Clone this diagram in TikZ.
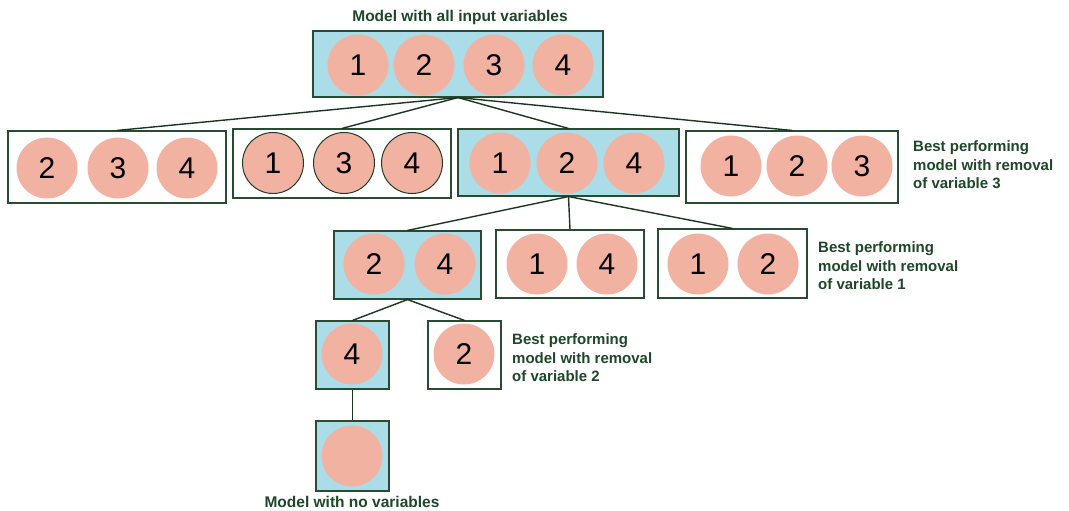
\documentclass[tikz,border=0pt]{standalone}
\usepackage{fontspec}
\setmainfont{Liberation Sans}
\definecolor{boxblue}{RGB}{170,221,232}
\definecolor{salmon}{RGB}{242,178,162}
\definecolor{edge}{RGB}{40,75,50}
\definecolor{lbl}{RGB}{30,70,40}
\begin{document}
\begin{tikzpicture}[x=1pt,y=-1pt,
  wbox/.style={draw=edge,line width=1.1pt,fill=white,rectangle,inner sep=0pt},
  bbox/.style={wbox,fill=boxblue},
  circ/.style={circle,fill=salmon,minimum size=61pt,inner sep=0pt,font=\fontsize{30}{30}\selectfont},
  ocirc/.style={circ,draw=edge!80!black,line width=1pt},
  conn/.style={draw=edge!70!black,line width=1.4pt},
  note/.style={align=left,anchor=west,text=lbl,font=\bfseries\fontsize{15}{18.5}\selectfont,inner sep=0pt},
  title/.style={text=lbl,font=\bfseries\fontsize{15.5}{17}\selectfont}]
\useasboundingbox (0,0) rectangle (1069,511);
% boxes
\node[bbox,minimum width=290pt,minimum height=66pt] (t) at (458,64) {};
\node[wbox,minimum width=218pt,minimum height=72pt] (r1) at (117,167) {};
\node[wbox,minimum width=218pt,minimum height=69pt] (r2) at (342,163.5) {};
\node[bbox,minimum width=221pt,minimum height=67pt] (r3) at (568.5,162.5) {};
\node[wbox,minimum width=212pt,minimum height=72pt] (r4) at (792,167) {};
\node[bbox,minimum width=147pt,minimum height=68pt] (a) at (407.5,265) {};
\node[wbox,minimum width=148pt,minimum height=68pt] (b) at (570,264) {};
\node[wbox,minimum width=149pt,minimum height=69pt] (c) at (732.5,263.5) {};
\node[bbox,minimum width=73pt,minimum height=68pt] (d) at (352.5,355) {};
\node[wbox,minimum width=73pt,minimum height=68pt] (e) at (464.5,355) {};
\node[bbox,minimum width=73pt,minimum height=70pt] (f) at (352.5,456) {};
% circles
\node[circ] (t1) at (358,65) {1};
\node[circ] (t2) at (424,65) {2};
\node[circ] (t3) at (494,65) {3};
\node[circ] (t4) at (563,65) {4};
\node[circ] (r1a) at (47,168) {2};
\node[circ] (r1b) at (118,168) {3};
\node[circ] (r1c) at (187,168) {4};
\node[ocirc] (r2a) at (273,163) {1};
\node[ocirc] (r2b) at (344,163) {3};
\node[ocirc] (r2c) at (412,163) {4};
\node[circ] (r3a) at (500,163) {1};
\node[circ] (r3b) at (567,163) {2};
\node[circ] (r3c) at (634,163) {4};
\node[circ] (r4a) at (731,166) {1};
\node[circ] (r4b) at (797,166) {2};
\node[circ] (r4c) at (862,166) {3};
\node[circ] (aa) at (374,264) {2};
\node[circ] (ab) at (445,264) {4};
\node[circ] (ba) at (537,264) {1};
\node[circ] (bb) at (607,264) {4};
\node[circ] (ca) at (698,264) {1};
\node[circ] (cb) at (768,264) {2};
\node[circ] (da) at (352,354) {4};
\node[circ] (ea) at (464,354) {2};
\node[circ] (fa) at (352,456) {};
% connectors
\foreach \n in {r1,r2,r3,r4} \draw[conn] (t.south) -- (\n.north);
\foreach \n in {a,b,c} \draw[conn] (r3.south) -- (\n.north);
\foreach \n in {d,e} \draw[conn] (a.south) -- (\n.north);
\draw[conn,line width=0.8pt] (d.south) -- (f.north);
% labels
\node[title] (lt) at (460,17) {Model with all input variables};
\node[note] (l3) at (913,165) {Best performing\\model with removal\\of variable 3};
\node[note] (l1) at (818,266) {Best performing\\model with removal\\of variable 1};
\node[note] (l2) at (512,358) {Best performing\\model with removal\\of variable 2};
\node[title] (lf) at (352,502) {Model with no variables};
\end{tikzpicture}
\end{document}
